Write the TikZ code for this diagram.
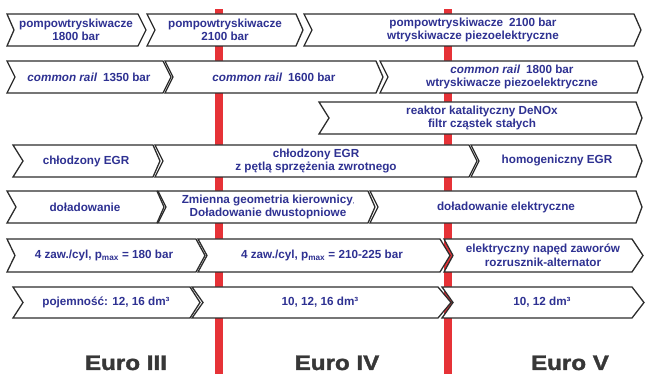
\documentclass[tikz,border=0pt]{standalone}
\usepackage{fontspec}
\setmainfont{Liberation Sans}
\newfontface\etapfont{Liberation Sans Bold}[FakeBold=1.6]
\definecolor{napis}{RGB}{46,49,146}
\definecolor{czerwony}{RGB}{230,50,55}
\definecolor{ramka}{RGB}{45,45,45}
\definecolor{euro}{RGB}{55,55,55}
\begin{document}
\begin{tikzpicture}[x=1pt, y=-1pt,
	strzalka/.style={fill=white, draw=ramka, line width=1.3pt, line join=miter},
	opis/.style={text=napis, font=\bfseries\fontsize{11.7}{13.5}\selectfont, align=center, inner sep=0pt},
	etap/.style={text=euro, font=\etapfont\fontsize{21}{24}\selectfont, inner sep=0pt, anchor=base}]
	\useasboundingbox (0,0) rectangle (646,374);
	\fill [czerwony] (215,9) rectangle (223,374);
	\fill [czerwony] (444,9) rectangle (452,374);
	
	\draw [strzalka] (7,14) -- (138,14) -- (146,30) -- (138,46) -- (7,46) -- (14,30) -- cycle;
	\draw [strzalka] (147,14) -- (296,14) -- (303,30) -- (296,46) -- (147,46) -- (155,30) -- cycle;
	\draw [strzalka] (304,14) -- (634,14) -- (641,30) -- (634,46) -- (304,46) -- (312,30) -- cycle;
	
	\draw [strzalka] (7,61) -- (163,61) -- (171,77) -- (163,93) -- (7,93) -- (15,77) -- cycle;
	\draw [strzalka] (165,61) -- (376,61) -- (383,77) -- (376,93) -- (165,93) -- (173,77) -- cycle;
	\draw [strzalka] (380,61) -- (637,61) -- (643,77) -- (637,93) -- (380,93) -- (388,77) -- cycle;
	
	\draw [strzalka] (319,102) -- (636,102) -- (642,118) -- (636,134) -- (319,134) -- (329,118) -- cycle;
	
	\draw [strzalka] (13,145) -- (153,145) -- (160,161) -- (153,177) -- (13,177) -- (23,161) -- cycle;
	\draw [strzalka] (155,145) -- (469,145) -- (477,161) -- (469,177) -- (155,177) -- (163,161) -- cycle;
	\draw [strzalka] (471,145) -- (636,145) -- (642,161) -- (636,177) -- (471,177) -- (479,161) -- cycle;
	
	\draw [strzalka] (7,191) -- (157,191) -- (164,207) -- (157,223) -- (7,223) -- (16,207) -- cycle;
	\draw [strzalka] (158,191) -- (368,191) -- (375,207) -- (368,223) -- (158,223) -- (166,207) -- cycle;
	\draw [strzalka] (370,191) -- (636,191) -- (642,207) -- (636,223) -- (370,223) -- (378,207) -- cycle;
	
	\draw [strzalka] (7,239) -- (196,239) -- (205,255.5) -- (196,272) -- (7,272) -- (15,255.5) -- cycle;
	\draw [strzalka] (198,239) -- (440,239) -- (450,255.5) -- (440,272) -- (198,272) -- (207,255.5) -- cycle;
	\draw [strzalka] (444,239) -- (632,239) -- (643,255.5) -- (632,272) -- (444,272) -- (453,255.5) -- cycle;
	
	\draw [strzalka] (13,287) -- (190,287) -- (200,302.5) -- (190,318) -- (13,318) -- (23,302.5) -- cycle;
	\draw [strzalka] (192,287) -- (438,287) -- (451,302.5) -- (438,318) -- (192,318) -- (203,302.5) -- cycle;
	\draw [strzalka] (442,287) -- (632,287) -- (644,302.5) -- (632,318) -- (442,318) -- (453,302.5) -- cycle;
	
	\node [opis] (pompy1) at (76,30) {pompowtryskiwacze\\1800 bar};
	\node [opis] (pompy2) at (225,30) {pompowtryskiwacze\\2100 bar};
	\node [opis] (pompy3) at (473,30) {pompowtryskiwacze\enspace 2100 bar\\wtryskiwacze piezoelektryczne};
	
	\node [opis] (rail1) at (89,77) {\textit{common rail}\enspace 1350 bar};
	\node [opis] (rail2) at (274,77) {\textit{common rail}\enspace 1600 bar};
	\node [opis] (rail3) at (512,77) {\textit{common rail}\enspace 1800 bar\\wtryskiwacze piezoelektryczne};
	
	\node [opis] (denox) at (482,118) {reaktor katalityczny DeNOx\\filtr cząstek stałych};
	
	\node [opis] (egr1) at (86,161) {chłodzony EGR};
	\node [opis] (egr2) at (316,161) {chłodzony EGR\\z pętlą sprzężenia zwrotnego};
	\node [opis] (egr3) at (557,161) {homogeniczny EGR};
	
	\node [opis] (dolad1) at (85,207) {doładowanie};
	\node [opis] (dolad2) at (268,207) {Zmienna geometria kierownicy{\tiny ,}\\Doładowanie dwustopniowe};
	\node [opis] (dolad3) at (506,207) {doładowanie elektryczne};
	
	\node [opis] (zawory1) at (104,255.5) {4 zaw./cyl, p\textsubscript{max} = 180 bar};
	\node [opis] (zawory2) at (322,255.5) {4 zaw./cyl, p\textsubscript{max} = 210-225 bar};
	\node [opis] (zawory3) at (543,255.5) {elektryczny napęd zaworów\\rozrusznik-alternator};
	
	\node [opis] (pojem1) at (106,302.5) {pojemność: 12, 16 dm³};
	\node [opis] (pojem2) at (320,302.5) {10, 12, 16 dm³};
	\node [opis] (pojem3) at (542,302.5) {10, 12 dm³};
	
	\node [etap] (euro3) at (126,370) {\scalebox{1.15}[1]{Euro III}};
	\node [etap] (euro4) at (337,370) {\scalebox{1.15}[1]{Euro IV}};
	\node [etap] (euro5) at (570,370) {\scalebox{1.15}[1]{Euro V}};
\end{tikzpicture}
\end{document}
